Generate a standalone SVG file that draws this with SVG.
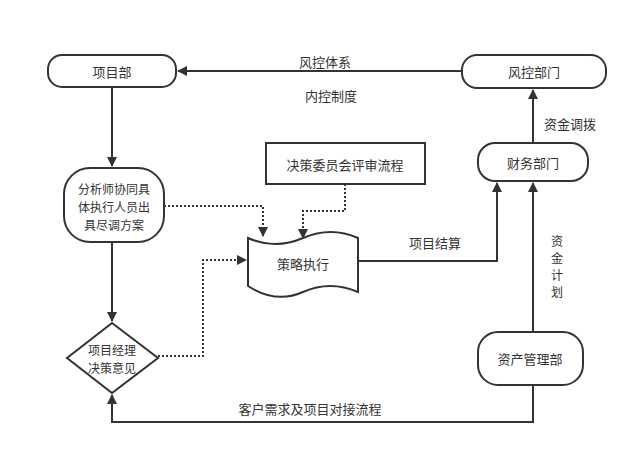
<svg xmlns="http://www.w3.org/2000/svg" width="638" height="457" viewBox="0 0 638 457">
<style>
.n{fill:#fff;stroke:#333;stroke-width:2}
.t{font-family:"Noto Sans CJK SC",sans-serif;font-size:13px;fill:#333;text-anchor:middle;dominant-baseline:central}
.s{font-size:12px}
.c{fill:none;stroke:#333;stroke-width:2}
.d{fill:none;stroke:#333;stroke-width:2;stroke-dasharray:2,2}
</style>
<defs><marker id="a" viewBox="0 0 10 10" refX="9" refY="5" markerWidth="5" markerHeight="5" orient="auto"><path d="M0,0L10,5L0,10z" fill="#333"/></marker></defs>
<rect width="638" height="457" fill="#fff"/>
<g id="connectors">
<path class="c" d="M112,87V166" marker-end="url(#a)"/>
<path class="c" d="M112,242V321" marker-end="url(#a)"/>
<path class="d" d="M164,206H263V236" marker-end="url(#a)"/>
<path class="d" d="M345,184V211H303V238" marker-end="url(#a)"/>
<path class="d" d="M158,356H203V260H246" marker-end="url(#a)"/>
<path class="c" d="M358,261H497V183" marker-end="url(#a)"/>
<path class="c" d="M533,332V183" marker-end="url(#a)"/>
<path class="c" d="M533,143V90" marker-end="url(#a)"/>
<path class="c" d="M462,71H178" marker-end="url(#a)"/>
<path class="c" d="M533,385V422H112V395" marker-end="url(#a)"/>
</g>
<g id="xmb"><rect class="n" x="48" y="55" width="128" height="32" rx="14"/><text class="t" x="112" y="71">项目部</text></g>
<g id="fkbm"><rect class="n" x="462" y="55" width="144" height="33" rx="15"/><text class="t" x="534" y="71">风控部门</text></g>
<g id="cwbm"><rect class="n" x="478" y="143" width="110" height="38" rx="17"/><text class="t" x="533" y="162">财务部门</text></g>
<g id="zcglb"><rect class="n" x="478" y="332" width="105" height="53" rx="20"/><text class="t" x="530" y="358">资产管理部</text></g>
<g id="fxs"><rect class="n" x="64" y="168" width="100" height="74" rx="26"/><text class="t s" x="114" y="188">分析师协同具</text><text class="t s" x="114" y="206">体执行人员出</text><text class="t s" x="114" y="224">具尽调方案</text></g>
<g id="jcwy"><rect class="n" x="266" y="143" width="159" height="41"/><text class="t" x="345" y="164">决策委员会评审流程</text></g>
<g id="clzx"><path class="n" d="M248,238Q275,250 303,238T358,238V292Q330,280 303,292T248,286Z"/><text class="t" x="303" y="263">策略执行</text></g>
<g id="xmjl"><path class="n" d="M112,323L158,358L112,393L67,358Z"/><text class="t s" x="112" y="349">项目经理</text><text class="t s" x="112" y="367">决策意见</text></g>
<g id="labels">
<text class="t" x="325" y="61">风控体系</text>
<text class="t" x="331" y="95">内控制度</text>
<text class="t" x="570" y="123">资金调拨</text>
<text class="t" x="435" y="242">项目结算</text>
<text class="t s" x="557" y="240">资</text><text class="t s" x="557" y="257">金</text><text class="t s" x="557" y="274">计</text><text class="t s" x="557" y="291">划</text>
<text class="t" x="310" y="408">客户需求及项目对接流程</text>
</g>
</svg>
